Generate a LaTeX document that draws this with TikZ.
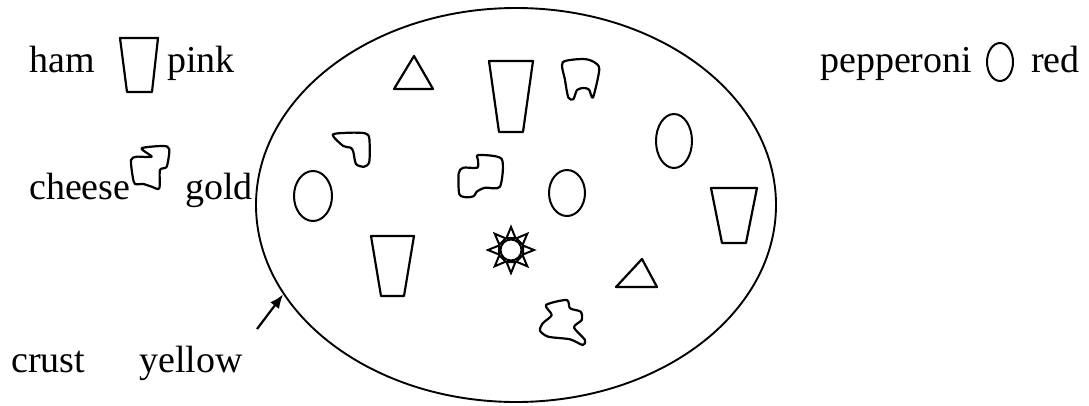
\documentclass[tikz,border=0pt]{standalone}
\usepackage{fontspec}
\setmainfont{Liberation Serif}
\usetikzlibrary{shapes.geometric,arrows.meta}
\begin{document}
\begin{tikzpicture}[x=1pt,y=-1pt,
  shp/.style={draw, line width=2.2pt, line join=round},
  blob/.style={draw, line width=2.2pt, line join=round, smooth cycle, tension=0.45},
  pep/.style={draw, line width=2pt},
  lbl/.style={anchor=base west, inner sep=0, font=\fontsize{38}{42}\selectfont}]
\useasboundingbox (0,0) rectangle (1089,405);

% crust
\node[draw, ellipse, line width=1.9pt, minimum width=520pt, minimum height=394pt, inner sep=0] (crust) at (516,205) {};

% legend texts
\node[lbl] (hamlbl) at (29,72) {ham};
\node[lbl] (pinklbl) at (167,72) {pink};
\node[lbl] (pepplbl) at (820,72) {pepperoni};
\node[lbl] (redlbl) at (1031,72) {red};
\node[lbl] (cheeselbl) at (29,199) {cheese};
\node[lbl] (goldlbl) at (185,199) {gold};
\node[lbl] (crustlbl) at (11,372) {crust};
\node[lbl] (yellowlbl) at (139,372) {yellow};

% arrow to crust
\coordinate (arrstart) at (257,329);
\draw[line width=2.2pt, -{Latex[length=14pt,width=11pt]}] (arrstart) -- (crust.201.7);

% ham legend
\draw[shp] (120,38) -- (158,38) -- (152,92) -- (127,92) -- cycle;
% pepperoni legend
\draw[pep] (1000,62) ellipse [x radius=13pt, y radius=19pt];
% cheese legend
\draw[blob] plot coordinates {(141.7,148.3) (163.3,146) (169.3,149.3) (166.7,166.7) (160,170) (159.3,188.3) (151.7,186.7) (143.3,184) (135,184) (132.7,176.7) (131,160) (136.7,156.7) (151.7,156.7)};

% ham pieces
\draw[shp] (489,61) -- (533,61) -- (523,132) -- (499,132) -- cycle;
\draw[shp] (371,236) -- (414,236) -- (404,296) -- (381,296) -- cycle;
\draw[shp] (711,188) -- (757,188) -- (746,243) -- (722,243) -- cycle;

% pepperoni pieces
\draw[pep] (313,196) ellipse [x radius=19pt, y radius=25pt];
\draw[pep] (567,193) ellipse [x radius=18pt, y radius=23pt];
\draw[pep] (674,141) ellipse [x radius=18pt, y radius=27pt];

% triangles
\draw[shp] (414,56) -- (433,89) -- (394,89) -- cycle;
\draw[shp] (642,259) -- (657,287) -- (616,287) -- cycle;

% cheese pieces
\draw[blob] plot coordinates {(562.7,62.3) (583.3,59) (594,62) (599.3,69.3) (593,97.5) (589,89.5) (583.3,88) (577,90) (573.3,99.3) (568.3,97.5) (565,80)};
\draw[blob] plot coordinates {(332.7,134.7) (350,132.7) (365,133.3) (369.3,138.3) (369.3,161.7) (364,166.7) (356,164) (353.3,151.7) (350.7,147.7) (343.3,146)};
\draw[blob] plot coordinates {(478,160) (478.3,155) (501.7,159) (500,186.7) (485,187.7) (476.7,191.7) (474,196) (466.7,197.3) (459.3,194) (458.7,173.3) (463.3,167.7) (477.3,167.7)};
\draw[blob] plot coordinates {(546,305) (566.7,300) (570,308.3) (580.7,311.7) (581.7,320) (574,327.3) (585,340) (582.7,345) (570,339.3) (548.3,336.7) (540,330.7) (542.7,323.3) (551.7,315)};

% sun
\coordinate (sunc) at (511,250);
\draw[line width=2pt] (sunc) circle [radius=10.5pt];
\foreach \a in {0,45,...,315}{
  \draw[line width=2pt, line join=miter, rotate around={\a:(sunc)}] (523,245.5) -- (534,250) -- (523,254.5) -- cycle;
}
\end{tikzpicture}
\end{document}
